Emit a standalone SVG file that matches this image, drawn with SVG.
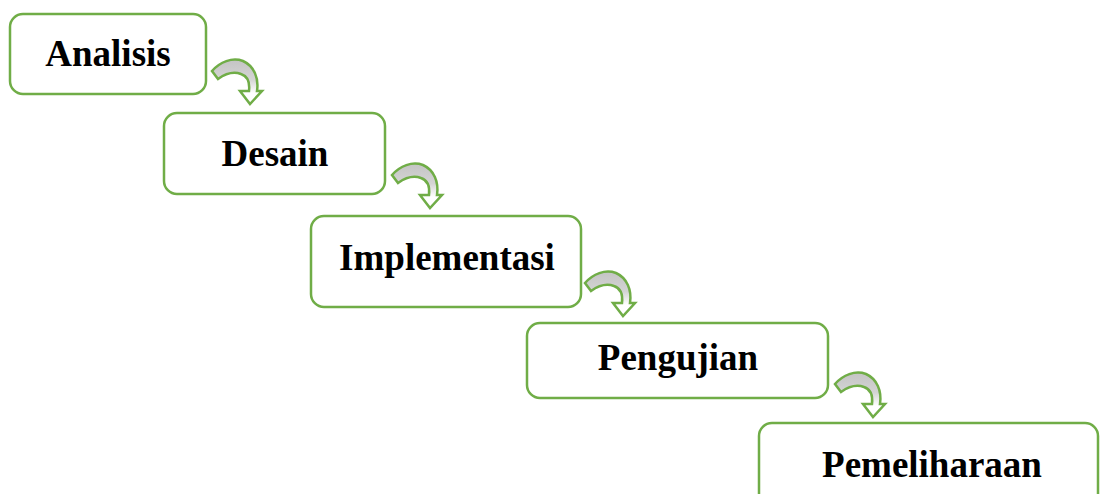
<svg xmlns="http://www.w3.org/2000/svg" width="1100" height="494" viewBox="0 0 1100 494">
<style>
.box{fill:#ffffff;stroke:#70ad47;stroke-width:2.5}
.lbl{font-family:"Liberation Serif","Times New Roman",serif;font-weight:bold;font-size:37px;fill:#000;text-anchor:middle}
.arr{fill:url(#g);stroke:#70ad47;stroke-width:2.5;stroke-linejoin:miter}
</style>
<defs>
<linearGradient id="g" x1="0" y1="0" x2="0" y2="1">
<stop offset="0" stop-color="#c4c4c4"/>
<stop offset="0.45" stop-color="#d4d4d4"/>
<stop offset="0.75" stop-color="#ffffff"/>
</linearGradient>
<path id="curl" d="M0,0 C8,-9 20,-14 31,-10 C42,-5 47,7 45,20 L50,20 L38,33 L28,20 L37,20 C38,11 35,5 29,3 C21,0 13,3 6,8 Z"/>
</defs>
<g id="connectors">
<use href="#curl" class="arr" transform="translate(212,71)"/>
<use href="#curl" class="arr" transform="translate(392,175)"/>
<use href="#curl" class="arr" transform="translate(585,283)"/>
<use href="#curl" class="arr" transform="translate(835,384)"/>
</g>
<g id="analisis">
<rect class="box" x="10" y="14" width="196" height="80" rx="13"/>
<text class="lbl" x="108" y="66">Analisis</text>
</g>
<g id="desain">
<rect class="box" x="164" y="113" width="221" height="81" rx="13"/>
<text class="lbl" x="275" y="166">Desain</text>
</g>
<g id="implementasi">
<rect class="box" x="311" y="216" width="270" height="91" rx="13"/>
<text class="lbl" x="447" y="270">Implementasi</text>
</g>
<g id="pengujian">
<rect class="box" x="527" y="323" width="301" height="75" rx="13"/>
<text class="lbl" x="678" y="370">Pengujian</text>
</g>
<g id="pemeliharaan">
<rect class="box" x="759" y="423" width="339" height="90" rx="13"/>
<text class="lbl" x="932" y="477">Pemeliharaan</text>
</g>
</svg>
